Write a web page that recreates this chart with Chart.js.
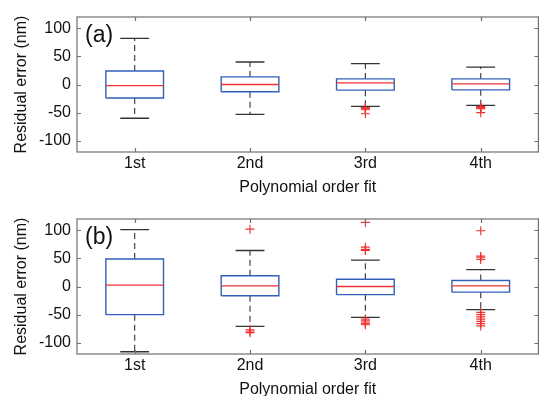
<!DOCTYPE html>
<html><head><meta charset="utf-8">
<script src="https://cdn.jsdelivr.net/npm/chart.js@4.4.1/dist/chart.umd.min.js"></script>
<style>
html,body{margin:0;padding:0;background:#fff;overflow:hidden;width:539px;height:396px;}
canvas{position:absolute;left:0;}
#c1{top:0}
#c2{top:202px}
</style></head><body>
<canvas id="c1" width="544" height="198"></canvas>
<canvas id="c2" width="544" height="198"></canvas>
<script>
const categories = ['1st', '2nd', '3rd', '4th'];
const yTicks = [-100, -50, 0, 50, 100];
const yTitle = 'Residual error (nm)';
const xTitle = 'Polynomial order fit';

// panel (a)
const aLower   = [-60, -53, -39, -37];
const aQ1      = [-24, -13, -10, -9.5];
const aMedian  = [-2, 0, 3, 1];
const aQ3      = [24, 13.5, 10, 10];
const aUpper   = [82, 40, 37, 31];
const aOutliers = [[], [], [-41, -42, -43, -45, -52], [-39, -40, -41, -42, -43, -50]];

// panel (b)
const bLower   = [-116, -71, -55, -41];
const bQ1      = [-50, -16.5, -14.5, -10];
const bMedian  = [2.5, 1, 0, 1.2];
const bQ3      = [49, 19, 13, 10.8];
const bUpper   = [101, 64, 47, 30];
const bOutliers = [[], [102, -77, -79, -82], [114, 70, 66, 64, -58, -61, -63, -66, -68], [99, 54, 51, 48, -46, -50, -54, -58, -62, -66, -70]];

const FONT = '"Liberation Sans", Arial, Helvetica, sans-serif';
Chart.defaults.font.family = FONT;
Chart.defaults.font.size = 16;
Chart.defaults.color = '#111';

const BOX_HALF = 0.25, CAP_HALF = 0.125;

const framePlugin = {
  id: 'frame',
  afterDraw(chart, args, opts) {
    const {ctx, chartArea: {left, top, right, bottom}, scales: {x, y}} = chart;
    ctx.save();
    ctx.strokeStyle = opts.color;
    ctx.lineWidth = opts.width;
    ctx.strokeRect(left, top, right - left, bottom - top);
    const L = opts.tickLength;
    ctx.beginPath();
    x.ticks.forEach(t => {
      const px = Math.round(x.getPixelForValue(t.value)) + 0.5;
      ctx.moveTo(px, bottom); ctx.lineTo(px, bottom - L);
      ctx.moveTo(px, top); ctx.lineTo(px, top + L);
    });
    y.ticks.forEach(t => {
      const py = Math.round(y.getPixelForValue(t.value)) + 0.5;
      ctx.moveTo(left, py); ctx.lineTo(left + L, py);
      ctx.moveTo(right, py); ctx.lineTo(right - L, py);
    });
    ctx.stroke();
    ctx.fillStyle = '#111';
    ctx.font = opts.labelFont;
    ctx.textBaseline = 'alphabetic';
    ctx.textAlign = 'left';
    ctx.fillText(opts.label, left + opts.labelDx, top + opts.labelDy);
    ctx.restore();
  }
};

function segs(list) {
  // list of [[x1,y1],[x2,y2],...] polylines, separated by gaps
  const out = [];
  list.forEach((poly, i) => {
    if (i > 0) out.push({x: poly[0][0], y: null});
    poly.forEach(p => out.push({x: p[0], y: p[1]}));
  });
  return out;
}

function build(id, label, lower, q1, med, q3, upper, outliers) {
  const pos = categories.map((c, i) => i + 1);
  const boxes = segs(pos.map((p, i) => [[p - BOX_HALF, q1[i]], [p + BOX_HALF, q1[i]], [p + BOX_HALF, q3[i]], [p - BOX_HALF, q3[i]], [p - BOX_HALF, q1[i]]]));
  const medians = segs(pos.map((p, i) => [[p - BOX_HALF, med[i]], [p + BOX_HALF, med[i]]]));
  const caps = segs(pos.flatMap((p, i) => [[[p - CAP_HALF, upper[i]], [p + CAP_HALF, upper[i]]], [[p - CAP_HALF, lower[i]], [p + CAP_HALF, lower[i]]]]));
  const whiskers = segs(pos.flatMap((p, i) => [[[p, q3[i]], [p, upper[i]]], [[p, q1[i]], [p, lower[i]]]]));
  const outs = [];
  pos.forEach((p, i) => outliers[i].forEach(v => outs.push({x: p, y: v})));

  const lineDs = (data, color, width, dash) => ({
    data, showLine: true, borderColor: color, borderWidth: width, borderDash: dash || [],
    pointRadius: 0, pointHoverRadius: 0, spanGaps: false, fill: false, tension: 0
  });

  new Chart(document.getElementById(id), {
    type: 'scatter',
    data: {
      datasets: [
        {data: outs, pointStyle: 'cross', pointRadius: 4.5, borderColor: '#f03030', borderWidth: 1.1, backgroundColor: '#f03030', showLine: false},
        lineDs(medians, '#ee3333', 1.3),
        lineDs(boxes, '#3060b8', 1.4),
        lineDs(caps, '#333333', 1.3),
        lineDs(whiskers, '#444444', 1.2, [6, 4])
      ]
    },
    options: {
      responsive: false,
      animation: false,
      devicePixelRatio: 1,
      layout: {padding: {top: 17, right: 2, bottom: 0, left: 0}},
      plugins: {
        legend: {display: false},
        tooltip: {enabled: false},
        frame: {color: '#707070', width: 1.2, tickLength: 4, label, labelFont: '23px ' + FONT, labelDx: 8, labelDy: 24.5}
      },
      scales: {
        x: {
          type: 'linear', min: 0.5, max: 4.5,
          afterBuildTicks: s => { s.ticks = pos.map(v => ({value: v})); },
          afterFit: s => { s.height = 46; },
          ticks: {callback: v => categories[Math.round(v) - 1], padding: 2, color: '#111', maxRotation: 0, autoSkip: false},
          grid: {display: false, drawTicks: false},
          border: {display: false},
          title: {display: true, text: xTitle, padding: {top: 0, bottom: 1}, color: '#111', font: {size: 16}}
        },
        y: {
          type: 'linear', min: -120, max: 120,
          afterBuildTicks: s => { s.ticks = yTicks.map(v => ({value: v})); },
          afterFit: s => { s.width = 77; },
          ticks: {padding: 6, color: '#111', callback: v => String(v)},
          grid: {display: false, drawTicks: false},
          border: {display: false},
          title: {display: true, text: yTitle, padding: {top: 12, bottom: 0}, color: '#111', font: {size: 16}}
        }
      }
    },
    plugins: [framePlugin]
  });
}

build('c1', '(a)', aLower, aQ1, aMedian, aQ3, aUpper, aOutliers);
build('c2', '(b)', bLower, bQ1, bMedian, bQ3, bUpper, bOutliers);
</script>
</body></html>
